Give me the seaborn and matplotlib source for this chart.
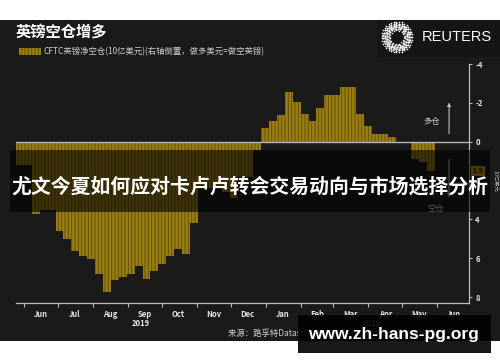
import numpy as np
import pandas as pd
import matplotlib
matplotlib.use('Agg')
import matplotlib.pyplot as plt
import matplotlib.dates as mdates
import matplotlib.transforms as mtransforms
from matplotlib.patches import Rectangle
import seaborn as sns

# weekly CFTC net sterling short position, $bn (positive = net short, drawn downward)
week_start = pd.date_range('2019-05-25', periods=53, freq='7D')
net_short = [1.2, 1.2, 3.72, 3.52, 3.52, 4.6, 5.02, 5.64, 5.88, 6.05,
             6.79, 7.74, 7.14, 6.97, 6.79, 6.4, 7.05, 6.67, 6.28, 5.88,
             5.53, 5.79, 4.16, 2.4, 2.4, 2.4, 2.57, 2.9, 1.8, 1.8,
             0.41, -0.71, -1.05, -1.36, -2.57, -2.03, -1.45, -1.05, -1.71, -2.38,
             -2.43, -2.83, -2.83, -1.43, -0.83, -0.41, -0.41, -0.24, 0.07, 0.07,
             0.9, 1.02, 1.5]
y_ticks = [-4, -2, 0, 2, 4, 6, 8]

title = '英镑空仓增多'
legend_label = 'CFTC英镑净空仓(10亿美元)(右轴倒置，做多美元=做空英镑)'
source = '来源：路孚特Datastream | 路透 Reuters Graphics | 2020/6/08'
overlay_text = '尤文今夏如何应对卡卢卢转会交易动向与市场选择分析'
site_text = 'www.zh-hans-pg.org'

BG = '#1a1a1a'
GOLD = '#987d12'
STRIPE = '#5e4c08'
FG = '#e6e6e6'

sns.set_theme(style='dark')
plt.rcParams['font.family'] = ['Noto Sans CJK SC', 'DejaVu Sans']
plt.rcParams['axes.unicode_minus'] = False
plt.rcParams['hatch.linewidth'] = 0.6

fig = plt.figure(figsize=(5, 3.62), dpi=100, facecolor='white')
H = 362.0

def fy(py):
    return 1 - py / H

# dark panel
fig.add_artist(Rectangle((0, fy(340.7)), 1, fy(20) - fy(340.7), transform=fig.transFigure,
                         facecolor=BG, edgecolor='none', zorder=-2))
fig.add_artist(Rectangle((378 / 500, fy(57)), 122 / 500, fy(20) - fy(57), transform=fig.transFigure,
                         facecolor='#151515', edgecolor='none', zorder=-1))

ax = fig.add_axes([16 / 500, fy(303), 453 / 500, fy(64) - fy(303)])
ax.set_facecolor('none')

x = mdates.date2num(week_start + pd.Timedelta(days=3.5))
sns.barplot(x=x, y=net_short, native_scale=True, color=GOLD, saturation=1, width=1,
            errorbar=None, hatch='|||||', edgecolor=STRIPE, linewidth=0, ax=ax)

ax.set_xlim(mdates.date2num(pd.Timestamp('2019-05-25')), mdates.date2num(pd.Timestamp('2020-06-29')))
ax.set_ylim(8.3, -4)
ax.axhline(0, color='#b5b5b5', lw=1, zorder=3)

ax.set_xlabel('')
ax.set_ylabel('')
ax.grid(False)
for s in ['left', 'top']:
    ax.spines[s].set_visible(False)
for s in ['right', 'bottom']:
    ax.spines[s].set_visible(True)
    ax.spines[s].set_color('#bdbdbd')
    ax.spines[s].set_linewidth(0.9)

ax.yaxis.tick_right()
ax.set_yticks(y_ticks)
ax.set_yticklabels([str(v) for v in y_ticks])
ax.tick_params(axis='y', direction='out', length=2.5, width=0.8, color='#bdbdbd',
               labelsize=5.5, labelcolor=FG, pad=2, right=True, left=False)
for t in ax.get_yticklabels():
    t.set_fontweight('bold')

ax.xaxis.set_major_locator(mdates.MonthLocator())
ax.xaxis.set_major_formatter(plt.NullFormatter())
ax.xaxis.set_minor_locator(mdates.MonthLocator(bymonthday=16))
ax.xaxis.set_minor_formatter(mdates.DateFormatter('%b'))
ax.tick_params(axis='x', which='major', direction='out', length=3, width=0.8,
               color='#bdbdbd', bottom=True)
ax.tick_params(axis='x', which='minor', length=0, labelsize=5.5, labelcolor=FG, pad=5, bottom=True)
for t in ax.xaxis.get_minorticklabels():
    t.set_fontweight('bold')

fig.text(141 / 500, fy(324), '2019', ha='center', va='center', fontsize=5.5,
         color=FG, fontweight='bold')
fig.text(372 / 500, fy(324), '2020', ha='center', va='center', fontsize=5.5,
         color=FG, fontweight='bold')

# direction arrows
trans = mtransforms.blended_transform_factory(ax.transAxes, ax.transData)
ax.annotate('', xy=(0.956, -2.16), xytext=(0.956, -0.27), xycoords=trans, textcoords=trans,
            arrowprops=dict(arrowstyle='-|>', color='#bdbdbd', lw=0.8, mutation_scale=5))
ax.annotate('', xy=(0.956, 3.0), xytext=(0.956, 0.77), xycoords=trans, textcoords=trans,
            arrowprops=dict(arrowstyle='-|>', color='#bdbdbd', lw=0.8, mutation_scale=5))
ax.text(0.918, -1.05, '多仓', transform=trans, ha='center', va='center', fontsize=6, color='#cfcfcf')
ax.text(0.927, 3.45, '空仓', transform=trans, ha='center', va='center', fontsize=6, color='#cfcfcf')

# latest value tag
ax.text(1.008, net_short[-1], f'{net_short[-1]:.1f}', transform=trans, ha='left', va='center',
        fontsize=5, color='#1a1a1a', fontweight='bold', clip_on=False,
        bbox=dict(boxstyle='square,pad=0.25', facecolor='#b8940f', edgecolor='none'))
fig.text(494 / 500, fy(181), '10亿美元', rotation=270, ha='center', va='center',
         fontsize=3.8, color='#bbbbbb')

# header
fig.text(16 / 500, fy(32), title, ha='left', va='center', fontsize=11, fontweight='bold', color='white')
fig.add_artist(Rectangle((19 / 500, fy(55)), 22 / 500, fy(48) - fy(55), transform=fig.transFigure,
                         facecolor=GOLD, edgecolor=STRIPE, hatch='|||||', linewidth=0))
fig.text(44 / 500, fy(52), legend_label, ha='left', va='center', fontsize=6, color='#d0d0d0')

# Reuters logo
lax = fig.add_axes([397 / 500 - 0.034, fy(37) - 0.047, 0.068, 0.094])
lax.set_xlim(-1, 1)
lax.set_ylim(-1, 1)
lax.set_aspect('equal')
lax.axis('off')
for r, s in zip([0.4, 0.5, 0.6, 0.7, 0.8, 0.9], [1.2, 2.2, 3.0, 3.0, 2.2, 1.4]):
    n = int(2 * np.pi * r / 0.16)
    a = np.linspace(0, 2 * np.pi, n, endpoint=False) + r
    lax.scatter(r * np.cos(a), r * np.sin(a), s=s, color='white', linewidths=0)
fig.text(422 / 500, fy(37), 'REUTERS', ha='left', va='center', fontsize=10.5,
         family='Liberation Sans', color='white')

fig.text(228 / 500, fy(333.5), source, ha='left', va='center', fontsize=6, color='#cccccc')

# watermark overlays
fig.add_artist(Rectangle((10 / 500, fy(212)), 480 / 500, fy(150) - fy(212), transform=fig.transFigure,
                         facecolor='black', alpha=0.6, edgecolor='none', zorder=5))
fig.text(0.5, fy(186), overlay_text, ha='center', va='center', fontsize=14.3, fontweight='bold',
         color='white', zorder=6)
fig.add_artist(Rectangle((298 / 500, fy(352.7)), 193 / 500, fy(315) - fy(352.7), transform=fig.transFigure,
                         facecolor='black', alpha=0.9, edgecolor='none', zorder=5))
fig.text(393 / 500, fy(334), site_text, ha='center', va='center', fontsize=12.5, fontweight='bold',
         family='Liberation Sans', color='white', zorder=6)

fig.savefig('out.png', dpi=100, facecolor='white')
